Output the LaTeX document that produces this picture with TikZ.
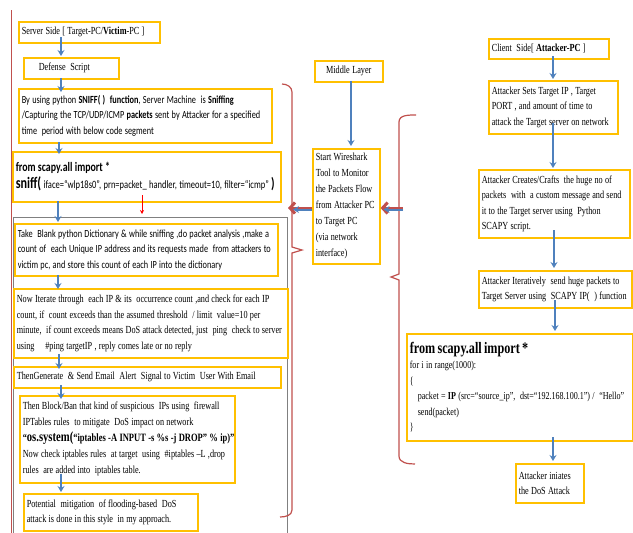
\documentclass[tikz,border=0pt]{standalone}
\usepackage{fontspec}
\setmainfont{Liberation Serif}[FakeStretch=0.76]
\newfontfamily\calib{Carlito}[FakeStretch=0.76]
\usetikzlibrary{arrows.meta}
\definecolor{boxc}{HTML}{FFC000}
\definecolor{arrc}{HTML}{4F81BD}
\definecolor{redc}{HTML}{C0504D}
\newskip\tightsp
\tightsp=2.3pt plus 0.5pt minus 0.3pt
\tikzset{
  bx/.style={draw=boxc, line width=1.6pt, anchor=north west, inner sep=3pt, align=left,
    font=\fontsize{10.8}{15.5}\selectfont, execute at begin node={\spaceskip=\tightsp}},
  ar/.style={draw=arrc, line width=1.4pt, -{Stealth[length=6pt,width=7pt,inset=2pt]}},
  brace/.style={draw=redc, line width=1.2pt},
}
\begin{document}
\begin{tikzpicture}[x=1pt,y=-1pt]
\useasboundingbox (0,0) rectangle (633,533);
% frame lines
\draw[redc, line width=1pt] (11,10) -- (11,533);
\draw[gray, line width=1pt] (13,533) -- (13,217) -- (287,217) -- (287,533);
% server side
\node[bx, text width=135pt, minimum height=21pt] (s1) at (18,21) {\mbox{Server Side [ Target-PC/\textbf{Victim}-PC ]}};
\node[bx, text width=89pt, minimum height=21pt] (s2) at (23,57) {\hspace*{12pt}Defense\ \ Script};
\node[bx, text width=247pt, minimum height=54pt, font=\calib\fontsize{10.9}{15.5}\selectfont] (s3) at (18,88)
  {\mbox{By using python \textbf{SNIFF( )\ \ function}, Server Machine\ \ is \textbf{Sniffing}}\\
   \mbox{/Capturing the TCP/UDP/ICMP \textbf{packets} sent by Attacker for a specified}\\
   time\ \ period with below code segment};
\node[bx, text width=262pt, minimum height=50pt, font=\calib] (s4) at (12,151)
  {{\fontsize{13}{16}\selectfont\bfseries from scapy.all import *}\\[2pt]
   \mbox{{\fontsize{16}{18}\selectfont\bfseries sniff(}{\fontsize{11.2}{12}\selectfont\ iface=“wlp18s0”, prn=packet\_ handler, timeout=10, filter=“icmp”}{\fontsize{15}{16}\selectfont\bfseries\ )}}};
\node[bx, text width=257pt, minimum height=52pt, font=\calib\fontsize{10.9}{15.5}\selectfont] (s5) at (14,223)
  {\mbox{Take\ \ Blank python Dictionary \& while sniffing ,do packet analysis ,make a}\\
   \mbox{count of\ \ each Unique IP address and its requests made\ \ from attackers to}\\
   \mbox{victim pc, and store this count of each IP into the dictionary}};
\node[bx, text width=268pt, minimum height=69pt] (s6) at (13,288)
  {\mbox{Now Iterate through\ \ each IP \& its\ \ occurrence count ,and check for each IP}\\
   \mbox{count, if\ \ count exceeds than the assumed threshold\ \ / limit\ \ value=10 per}\\
   \mbox{minute,\ \ if count exceeds means DoS attack detected, just\ \ ping\ \ check to server}\\
   \mbox{using\quad \#ping targetIP , reply comes late or no reply}};
\node[bx, text width=261pt, minimum height=21pt] (s7) at (13,366)
  {\mbox{ThenGenerate\ \ \& Send Email\ \ Alert\ \ Signal to Victim\ \ User With Email}};
\node[bx, text width=209pt, minimum height=87pt, font=\fontsize{10.8}{16}\selectfont] (s8) at (19,395)
  {\mbox{Then Block/Ban that kind of suspicious\ \ IPs using\ \ firewall}\\
   \mbox{IPTables rules\ \ to mitigate\ \ DoS impact on network}\\
   \mbox{{\bfseries“}{\fontsize{14}{15}\selectfont\bfseries os.system(}{\bfseries\fontsize{11.2}{15}\selectfont“iptables -A INPUT -s \%s -j DROP” \% ip)”}}\\
   \mbox{Now check iptables rules\ \ at target\ \ using\ \ \#iptables –L ,drop}\\
   \mbox{rules\ \ are added into\ \ iptables table.}};
\node[bx, text width=168pt, minimum height=37pt] (s9) at (23,493)
  {\mbox{Potential\ \ mitigation\ \ of flooding-based\ \ DoS}\\
   \mbox{attack is done in this style\ \ in my approach.}};
% middle layer
\node[bx, text width=62pt, minimum height=21pt, align=center] (m1) at (314,60) {Middle Layer};
\node[bx, text width=61pt, minimum height=115pt, font=\fontsize{10.8}{16}\selectfont] (m2) at (312,148)
  {Start Wireshark\\ Tool to Monitor\\ the Packets Flow\\ \mbox{from Attacker PC}\\ to Target PC\\ (via network\\ interface)};
% client side
\node[bx, text width=114pt, minimum height=20pt] (c1) at (488,38) {\mbox{Client\ \ Side[ \textbf{Attacker-PC} ]}};
\node[bx, text width=123pt, minimum height=53pt] (c2) at (488,80)
  {\mbox{Attacker Sets Target IP , Target}\\ \mbox{PORT , and amount of time to}\\ \mbox{attack the Target server on network}};
\node[bx, text width=145pt, minimum height=68pt] (c3) at (478,169)
  {\mbox{Attacker Creates/Crafts\ \ the huge no of}\\ \mbox{packets\ \ with\ \ a custom message and send}\\
   \mbox{it to the Target server using\ \ Python}\\ SCAPY script.};
\node[bx, text width=147pt, minimum height=37pt] (c4) at (478,270)
  {\mbox{Attacker Iteratively\ \ send huge packets to}\\ \mbox{Target Server using\ \ SCAPY IP(\ \ ) function}};
\node[bx, text width=220pt, minimum height=107pt, font=\fontsize{10.6}{15.5}\selectfont] (c5) at (406,333)
  {{\fontsize{16}{18}\selectfont\bfseries from scapy.all import *}\\
   for i in range(1000):\\
   \{\\
   \mbox{\hspace*{8pt}packet = \textbf{IP} (src=“source\_ip”,\ \ dst=“192.168.100.1”) /\ \ “Hello”}\\
   \hspace*{8pt}send(packet)\\
   \}};
\node[bx, text width=62pt, minimum height=39pt] (c6) at (515,463)
  {\mbox{Attacker iniates}\\ the DoS Attack};
% vertical arrows
\draw[ar] (61,37) -- (61,56);
\draw[ar] (61,78) -- (61,92);
\draw[ar] (59,142) -- (59,154);
\draw[ar] (58,201) -- (58,222);
\draw[draw=red, line width=0.8pt, -{Stealth[length=4pt,width=4pt]}] (142,195) -- (142,214);
\draw[ar] (58,275) -- (58,289);
\draw[ar] (59,354) -- (59,369);
\draw[ar] (61,385) -- (61,399);
\draw[ar] (61,474) -- (61,492);
\draw[ar] (351,81) -- (351,146);
\draw[ar] (553,56) -- (553,79);
\draw[ar] (553,123) -- (553,168);
\draw[ar] (554,230) -- (554,268);
\draw[ar] (555,300) -- (555,331);
\draw[ar] (553,437) -- (553,461);
% braces
\draw[brace] (282,84) to[out=0,in=90] (292,92) -- (292,247) -- (302,250) -- (292,253) -- (292,510) to[out=-90,in=0] (280,517);
\draw[brace] (416,115) to[out=180,in=90] (399,122) -- (399,274) -- (391,277) -- (399,280) -- (399,456) to[out=-90,in=180] (415,464);
% horizontal arrows
\coordinate (lt) at (288,208);
\coordinate (rs) at (403,208);
\draw[redc, line width=3pt, -{Straight Barb[length=5pt,width=11pt]}] (m2.west |- lt) -- (lt);
\draw[arrc, line width=2pt, -{Stealth[length=6pt,width=7pt,inset=2pt]}] ([yshift=-1.5pt]m2.west |- lt) -- ([xshift=5pt,yshift=-1.5pt]lt);
\draw[redc, line width=3pt, -{Straight Barb[length=5pt,width=11pt]}] (rs) -- (m2.east |- rs);
\draw[arrc, line width=2pt, -{Stealth[length=6pt,width=7pt,inset=2pt]}] ([yshift=-1.5pt]rs) -- ([xshift=3pt,yshift=-1.5pt]m2.east |- rs);
\end{tikzpicture}
\end{document}
